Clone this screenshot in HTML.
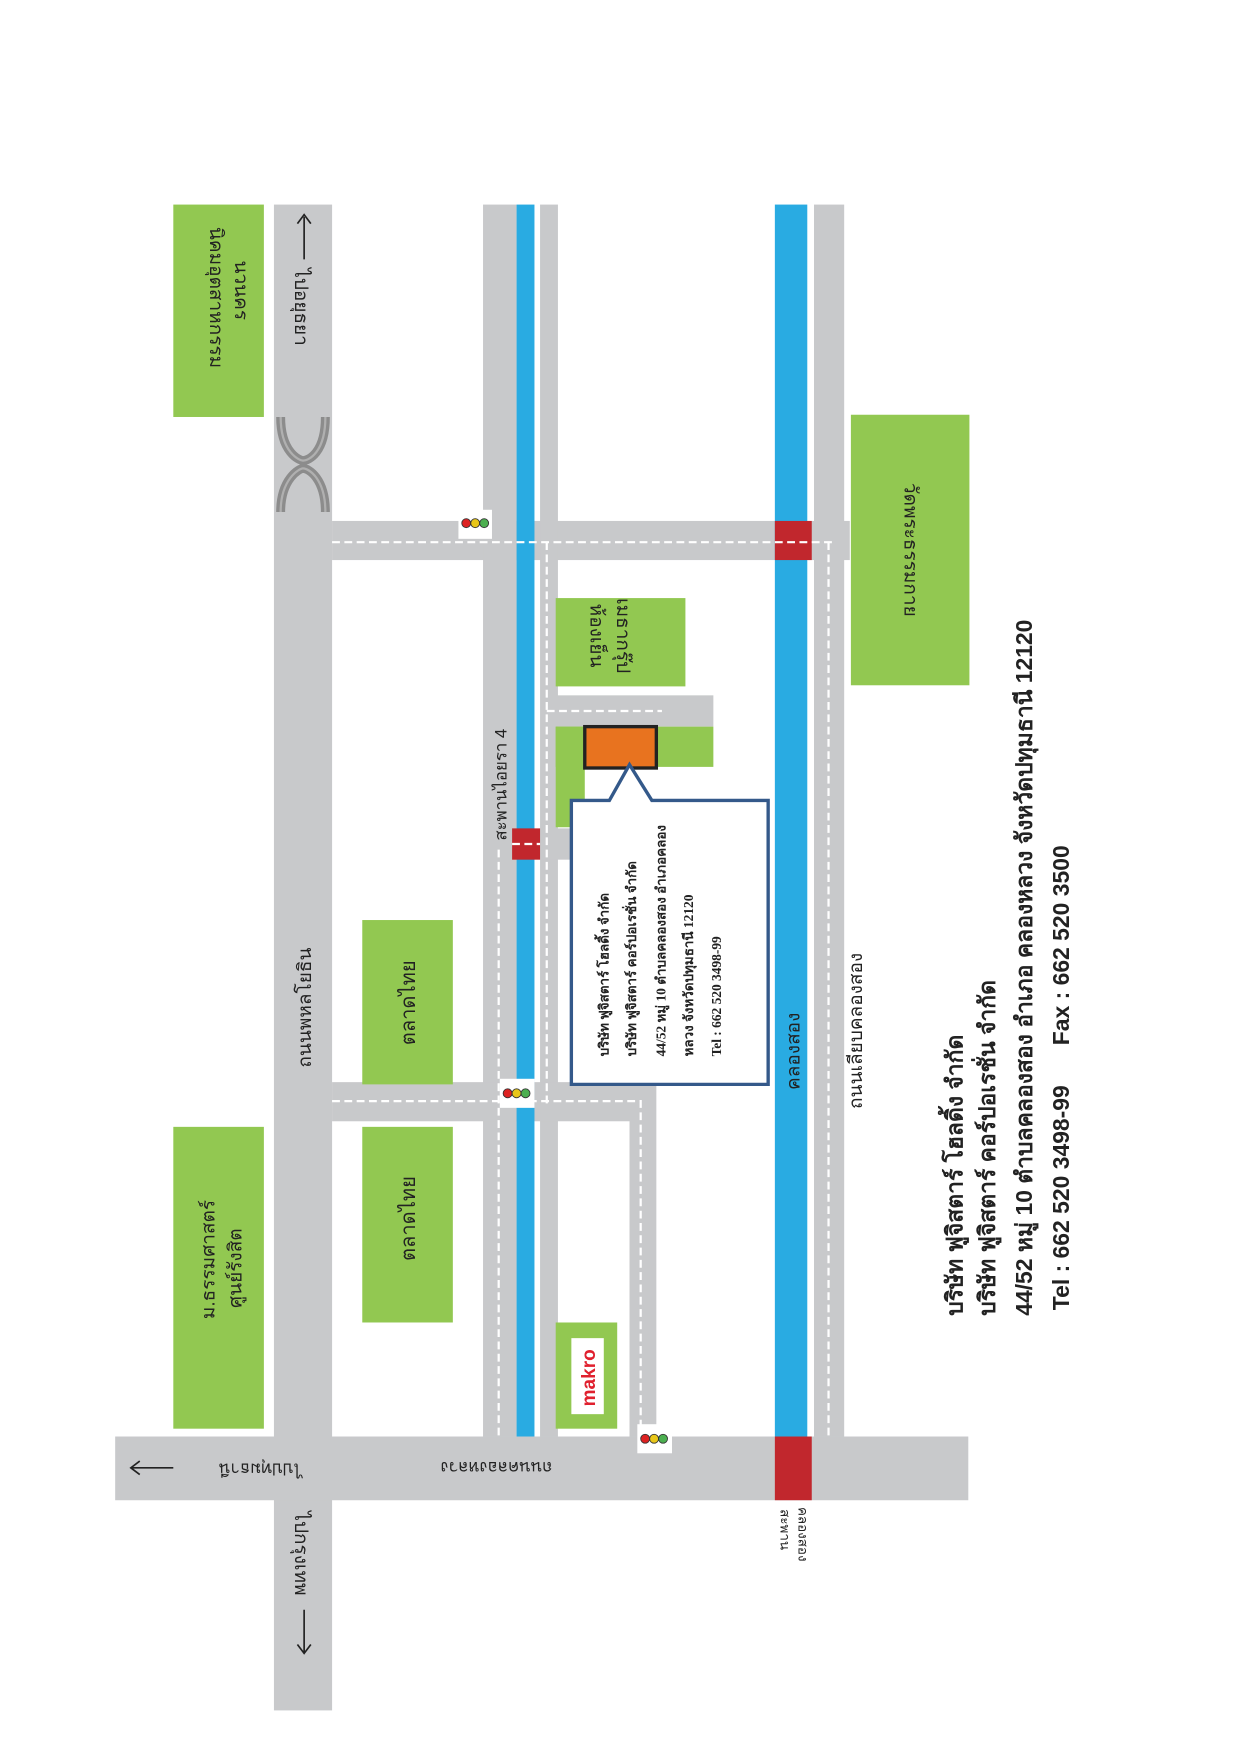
<!DOCTYPE html>
<html><head><meta charset="utf-8"><style>html,body{margin:0;padding:0;background:#fff}svg{display:block}</style></head>
<body>
<svg xmlns="http://www.w3.org/2000/svg" width="1240" height="1754" viewBox="0 0 1109 1569" preserveAspectRatio="none" font-family="'Liberation Sans','Noto Sans CJK SC',sans-serif">
<rect width="1109" height="1569" fill="#fff"/>
<g fill="#c8c9cb">
<rect x="245" y="183" width="52" height="1347"/>
<rect x="103" y="1285" width="763" height="57"/>
<rect x="297" y="466" width="463" height="35"/>
<rect x="432" y="183" width="30" height="1102"/>
<rect x="483" y="183" width="16" height="1102"/>
<rect x="728" y="183" width="27" height="1102"/>
<rect x="297" y="968" width="288" height="35"/>
<rect x="563" y="968" width="24" height="317"/>
<rect x="497" y="622" width="141" height="28"/>
<rect x="483" y="741" width="28" height="28"/>
</g>
<g fill="#29abe2">
<rect x="462" y="183" width="16" height="1102"/>
<rect x="693" y="183" width="29" height="1102"/>
</g>
<g fill="#92c851">
<rect x="155" y="183" width="81" height="190"/>
<rect x="155" y="1008" width="81" height="270"/>
<rect x="761" y="371" width="106" height="242"/>
<rect x="497" y="535" width="116" height="79"/>
<rect x="497" y="650" width="141" height="36"/>
<rect x="497" y="650" width="26" height="90"/>
<rect x="324" y="823" width="81" height="147"/>
<rect x="324" y="1008" width="81" height="175"/>
<rect x="497" y="1183" width="55" height="95"/>
</g>
<g fill="#c1272d">
<rect x="693" y="466" width="33" height="35"/>
<rect x="693" y="1285" width="33" height="57"/>
<rect x="458" y="741" width="25" height="28"/>
</g>
<g stroke="#fff" stroke-width="2" stroke-dasharray="7,4" fill="none">
<path d="M297,485 H745"/>
<path d="M489,485 V990"/>
<path d="M741,485 V1285"/>
<path d="M489,636 H592"/>
<path d="M297,985 H573 V1285"/>
<path d="M446,760 V1285"/>
<path d="M458,755 H483"/>
</g>
<g stroke="#8c8c8c" stroke-width="8" fill="none">
<path d="M251,373 C251,405 268,412 271,412 C276,412 291,405 291,373"/>
<path d="M251,458 C251,428 268,419 271,419 C276,419 291,428 291,458"/>
</g>
<g stroke="#b0b0b0" stroke-width="2" fill="none">
<path d="M251,373 C251,405 268,412 271,412 C276,412 291,405 291,373"/>
<path d="M251,458 C251,428 268,419 271,419 C276,419 291,428 291,458"/>
</g>
<rect x="523" y="650" width="64" height="37" fill="#e8731f" stroke="#222" stroke-width="3"/>
<path d="M511,716 H545 L563,684 L583,716 H687 V970 H511 Z" fill="#fff" stroke="#34598a" stroke-width="3"/>
<g stroke="#333" stroke-width="0.8">
<rect x="410" y="456" width="30" height="26" fill="#fff" stroke="none"/><circle cx="417" cy="468" r="4" fill="#d22"/><circle cx="425" cy="468" r="4" fill="#e8c619"/><circle cx="433" cy="468" r="4" fill="#4caf50"/>
<rect x="447" y="965" width="31" height="26" fill="#fff" stroke="none"/><circle cx="454" cy="978" r="4" fill="#d22"/><circle cx="462" cy="978" r="4" fill="#e8c619"/><circle cx="470" cy="978" r="4" fill="#4caf50"/>
<rect x="570" y="1274" width="31" height="26" fill="#fff" stroke="none"/><circle cx="577" cy="1287" r="4" fill="#d22"/><circle cx="585" cy="1287" r="4" fill="#e8c619"/><circle cx="593" cy="1287" r="4" fill="#4caf50"/>
</g>
<rect x="511" y="1197" width="29" height="68" fill="#fff"/>
<text transform="translate(532,1258) rotate(-90)" font-size="17" font-weight="bold" fill="#e0202e">makro</text>
<g fill="#222" font-size="17">
<text transform="translate(188,203) rotate(90)">นิคมอุตสาหกรรม</text>
<text transform="translate(210,233) rotate(90)">นวนคร</text>
<text transform="translate(264,240) rotate(90)">ไปอยุธยา</text>
<path d="M272,194 V232 M266,226 L272,234 L278,226" stroke="#222" stroke-width="1.5" fill="none" transform="rotate(180 272 213)"/>
<text transform="translate(192,1180) rotate(-90)">ม.ธรรมศาสตร์</text>
<text transform="translate(216,1170) rotate(-90)">ศูนย์รังสิต</text>
<text transform="translate(278,955) rotate(-90)">ถนนพหลโยธิน</text>
<text transform="translate(371,935) rotate(-90)" font-size="18">ตลาดไทย</text>
<text transform="translate(371,1128) rotate(-90)" font-size="18">ตลาดไทย</text>
<text transform="translate(528,540) rotate(90)">ห้องเย็น</text>
<text transform="translate(552,535) rotate(90)">เมธากรุ๊ป</text>
<text transform="translate(809,432) rotate(90)">วัดพระธรรมกาย</text>
<text transform="translate(453,752) rotate(-90)" font-size="15">สะพานไอยรา 4</text>
<text transform="translate(715,975) rotate(-90)">คลองสอง</text>
<text transform="translate(771,992) rotate(-90)">ถนนเลียบคลองสอง</text>
<text transform="translate(494,1308) rotate(180)" font-size="15">ถนนคลองหลวง</text>
<text transform="translate(270,1309) rotate(180)" font-size="15">ไปปทุมธานี</text>
<path d="M118,1313 H155 M125,1307 L117,1313 L125,1319" stroke="#222" stroke-width="1.5" fill="none"/>
<text transform="translate(264,1352) rotate(90)">ไปกรุงเทพ</text>
<path d="M272,1440 V1478 M266,1471 L272,1479 L278,1471" stroke="#222" stroke-width="1.5" fill="none"/>
<text transform="translate(698,1350) rotate(90)" font-size="12">สะพาน</text>
<text transform="translate(714,1348) rotate(90)" font-size="12">คลองสอง</text>
</g>
<g fill="#222" font-family="'Liberation Serif','Noto Serif CJK SC',serif" font-size="12" font-weight="bold">
<text transform="translate(544,945) rotate(-90)">บริษัท ฟูจิสตาร์ โฮลดิ้ง จำกัด</text>
<text transform="translate(569,945) rotate(-90)">บริษัท ฟูจิสตาร์ คอร์ปอเรชั่น จำกัด</text>
<text transform="translate(595,945) rotate(-90)">44/52 หมู่ 10 ตำบลคลองสอง อำเภอคลอง</text>
<text transform="translate(620,945) rotate(-90)">หลวง จังหวัดปทุมธานี 12120</text>
<text transform="translate(645,945) rotate(-90)">Tel : 662 520 3498-99</text>
</g>
<g fill="#222" font-size="20.5" font-weight="bold">
<text transform="translate(861,1177) rotate(-90)">บริษัท ฟูจิสตาร์ โฮลดิ้ง จำกัด</text>
<text transform="translate(890,1177) rotate(-90)">บริษัท ฟูจิสตาร์ คอร์ปอเรชั่น จำกัด</text>
<text transform="translate(923,1177) rotate(-90)">44/52 หมู่ 10 ตำบลคลองสอง อำเภอ คลองหลวง จังหวัดปทุมธานี 12120</text>
<text transform="translate(956,1172) rotate(-90)">Tel : 662 520 3498-99</text>
<text transform="translate(956,935) rotate(-90)">Fax : 662 520 3500</text>
</g>
</svg>
</body></html>
